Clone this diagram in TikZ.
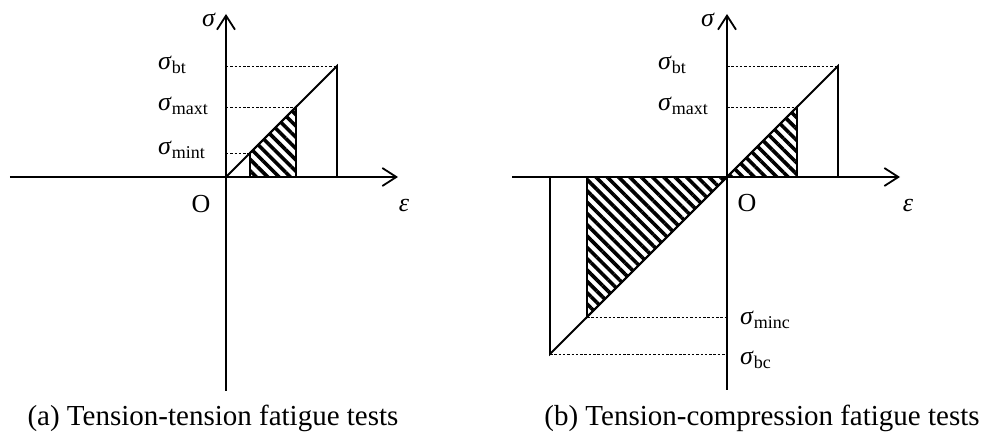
\documentclass[tikz,border=0pt]{standalone}
\usepackage{fontspec}
\setmainfont{Liberation Serif}
\usetikzlibrary{arrows.meta, patterns.meta}

% sigma with an upright subscript
\newcommand{\sgm}[1]{\textit{σ}\raisebox{-4pt}{\fontsize{18}{18}\selectfont #1}}

\begin{document}
\begin{tikzpicture}[
    x=1pt, y=1pt,
    axis/.style={line width=1.8pt, -{Straight Barb[length=14pt, width=18pt, line width=1.8pt]}},
    curve/.style={line width=1.8pt},
    guide/.style={line width=0.7pt, dash pattern=on 2.5pt off 1.8pt},
    hatch/.style={line width=1.8pt, pattern={Lines[angle=-45, distance=8pt, line width=3.6pt]}},
    lbl/.style={font=\fontsize{26}{29}\selectfont, inner sep=0pt},
    captxt/.style={font=\fontsize{29}{33}\selectfont, inner sep=0pt},
]
\useasboundingbox (-226,-264) rectangle (760,177);

% (a) tension-tension: origin at (0,0)
\coordinate (Oa) at (0,0);
\coordinate (xla) at (-216,0);
\coordinate (xra) at (172,0);
\coordinate (yba) at (0,-214);
\coordinate (yta) at (0,163);
\coordinate (bta) at (111,111);
\coordinate (mxa) at (70,70);
\coordinate (mna) at (24,24);

\draw[hatch] (mna |- Oa) -- (mna) -- (mxa) -- (mxa |- Oa) -- cycle;
\draw[guide] (Oa |- bta) -- (bta);
\draw[guide] (Oa |- mxa) -- (mxa);
\draw[guide] (Oa |- mna) -- (mna);
\draw[curve] (Oa) -- (bta) -- (bta |- Oa);
\draw[axis] (xla) -- (xra);
\draw[axis] (yba) -- (yta);

\node[lbl] (siga) at (-17,157) {\textit{σ}};
\node[lbl] (epsa) at (178,-29) {\textit{ε}};
\node[lbl] (oa) at (-25,-27) {O};
\node[lbl, anchor=west] (bta-l) at (-68,112) {\sgm{bt}};
\node[lbl, anchor=west] (mxa-l) at (-68,71) {\sgm{maxt}};
\node[lbl, anchor=west] (mna-l) at (-68,27) {\sgm{mint}};
\node[captxt] (capa) at (-13,-241) {(a) Tension-tension fatigue tests};

% (b) tension-compression: origin shifted right
\begin{scope}[shift={(501,0)}]
\coordinate (Ob) at (0,0);
\coordinate (xlb) at (-215,0);
\coordinate (xrb) at (173,0);
\coordinate (ybb) at (0,-213);
\coordinate (ytb) at (0,163);
\coordinate (btb) at (111,111);
\coordinate (mxb) at (70,70);
\coordinate (mnb) at (-140,-140);
\coordinate (bcb) at (-177,-177);

\draw[hatch] (Ob) -- (mxb) -- (mxb |- Ob) -- cycle;
\draw[hatch] (mnb |- Ob) -- (Ob) -- (mnb) -- cycle;
\draw[guide] (Ob |- btb) -- (btb);
\draw[guide] (Ob |- mxb) -- (mxb);
\draw[guide] (mnb) -- (Ob |- mnb);
\draw[guide] (bcb) -- (Ob |- bcb);
\draw[curve] (bcb |- Ob) -- (bcb) -- (btb) -- (btb |- Ob);
\draw[axis] (xlb) -- (xrb);
\draw[axis] (ybb) -- (ytb);

\node[lbl] (sigb) at (-19,157) {\textit{σ}};
\node[lbl] (epsb) at (181,-29) {\textit{ε}};
\node[lbl] (ob) at (20,-26) {O};
\node[lbl, anchor=west] (btb-l) at (-69,112) {\sgm{bt}};
\node[lbl, anchor=west] (mxb-l) at (-69,71) {\sgm{maxt}};
\node[lbl, anchor=west] (mnb-l) at (13,-143) {\sgm{minc}};
\node[lbl, anchor=west] (bcb-l) at (13,-183) {\sgm{bc}};
\node[captxt] (capb) at (35,-241) {(b) Tension-compression fatigue tests};
\end{scope}
\end{tikzpicture}
\end{document}
